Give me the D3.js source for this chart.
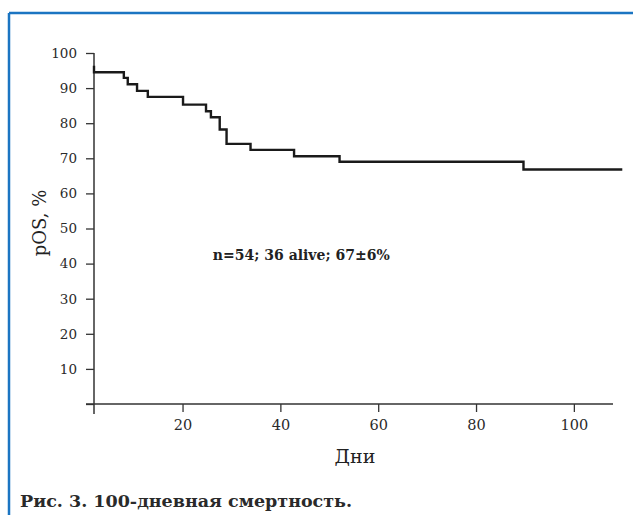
<!DOCTYPE html>
<html>
<head>
<meta charset="utf-8">
<script src="https://cdn.jsdelivr.net/npm/d3@7"></script>
<style>
  body { margin: 0; background: #fff; }
  svg { display: block; }
</style>
</head>
<body>
<div id="chart"></div>
<script>
// Kaplan-Meier curve
var startDay = 1.9;
var startSurv = 96.4;
var eventDays = [1.9, 8.0, 8.8, 10.7, 12.9, 20.1, 24.8, 25.8, 27.6, 29.0, 33.9, 42.8, 52.1, 89.7];
var survAfter = [94.5, 92.9, 91.1, 89.2, 87.5, 85.3, 83.4, 81.7, 78.2, 74.1, 72.4, 70.6, 69.0, 66.8];
var lastDay = 109.9;

var xTicks = [20, 40, 60, 80, 100];
var yTicks = [0, 10, 20, 30, 40, 50, 60, 70, 80, 90, 100];
var xMin = 1.9, xMax = 108;

var width = 633;
var height = 515;
var serif = "'DejaVu Serif', serif";

var svg = d3.select("#chart").append("svg")
    .attr("width", width)
    .attr("height", height);

// blue frame, top and left
svg.append("line")
    .attr("x1", 9).attr("y1", 13).attr("x2", width).attr("y2", 13)
    .attr("stroke", "#1b75c2").attr("stroke-width", 2.5);
svg.append("line")
    .attr("x1", 9).attr("y1", 13).attr("x2", 9).attr("y2", height)
    .attr("stroke", "#1b75c2").attr("stroke-width", 2.5);

var x = d3.scaleLinear().domain([xMin, xMax]).range([94, 613]);
var y = d3.scaleLinear().domain([0, 100]).range([404, 53]);

// y axis
var yAxis = svg.append("g")
    .attr("transform", "translate(" + x(xMin) + ",0)")
    .call(d3.axisLeft(y).tickValues(yTicks).tickSize(8).tickPadding(9).tickSizeOuter(0)
        .tickFormat(function (d) { return d === 0 ? "" : d; }));
yAxis.select(".domain").remove();
yAxis.selectAll(".tick line").attr("stroke", "#333").attr("stroke-width", 1.3);
yAxis.selectAll("text")
    .attr("font-family", serif).attr("font-size", "13.5px").attr("fill", "#2a2a2a");

svg.append("line")
    .attr("x1", x(xMin)).attr("x2", x(xMin))
    .attr("y1", y(100)).attr("y2", y(0) + 10)
    .attr("stroke", "#333").attr("stroke-width", 1.5);

// x axis
var xAxis = svg.append("g")
    .attr("transform", "translate(0," + y(0) + ")")
    .call(d3.axisBottom(x).tickValues(xTicks).tickSize(8).tickPadding(8).tickSizeOuter(0));
xAxis.select(".domain").remove();
xAxis.selectAll(".tick line").attr("stroke", "#333").attr("stroke-width", 1.3);
xAxis.selectAll("text")
    .attr("font-family", serif).attr("font-size", "14.5px").attr("fill", "#2a2a2a");

svg.append("line")
    .attr("x1", x(xMin) - 8).attr("x2", x(xMax))
    .attr("y1", y(0)).attr("y2", y(0))
    .attr("stroke", "#333").attr("stroke-width", 1.5);

// survival curve
var pts = [[startDay, startSurv]];
eventDays.forEach(function (d, i) { pts.push([d, survAfter[i]]); });
pts.push([lastDay, survAfter[survAfter.length - 1]]);

var line = d3.line()
    .x(function (d) { return x(d[0]); })
    .y(function (d) { return y(d[1]); })
    .curve(d3.curveStepAfter);

svg.append("path")
    .datum(pts)
    .attr("d", line)
    .attr("fill", "none")
    .attr("stroke", "#1a1a1a")
    .attr("stroke-width", 2.4);

// annotation
svg.append("text")
    .attr("x", x(26.2)).attr("y", y(41))
    .attr("font-family", serif).attr("font-size", "14px").attr("font-weight", "bold")
    .attr("fill", "#222")
    .text("n=54; 36 alive; 67±6%");

// axis titles
svg.append("text")
    .attr("transform", "translate(46,223) rotate(-90)")
    .attr("text-anchor", "middle")
    .attr("font-family", serif).attr("font-size", "18px").attr("fill", "#222")
    .text("pOS, %");

svg.append("text")
    .attr("x", 355).attr("y", 463)
    .attr("text-anchor", "middle")
    .attr("font-family", serif).attr("font-size", "19px").attr("fill", "#222")
    .text("Дни");

// caption
svg.append("text")
    .attr("x", 20).attr("y", 507)
    .attr("font-family", serif).attr("font-size", "17.5px").attr("font-weight", "bold")
    .attr("fill", "#2a2a2a")
    .text("Рис. 3. 100-дневная смертность.");
</script>
</body>
</html>
